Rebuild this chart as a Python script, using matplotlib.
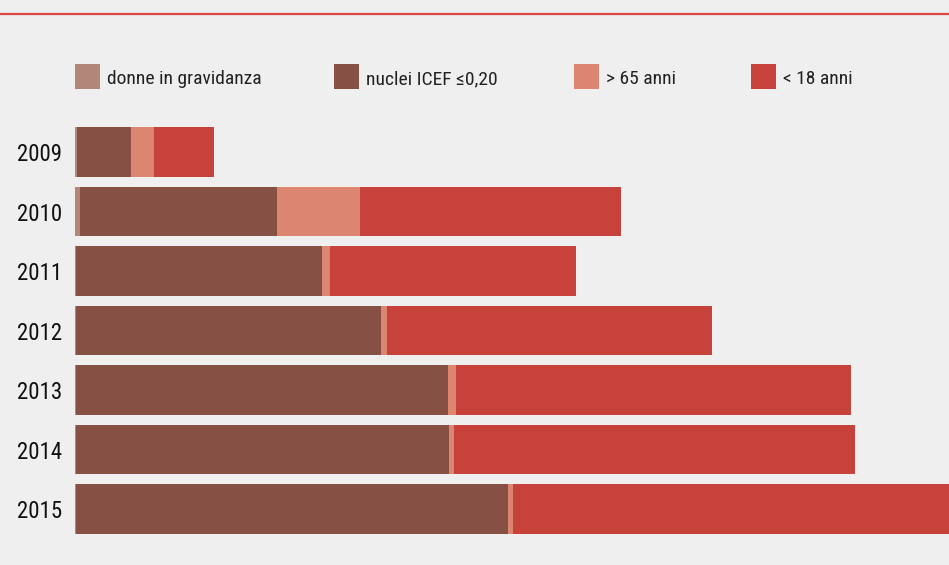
import matplotlib
matplotlib.use('Agg')
import matplotlib.pyplot as plt
from matplotlib.patches import Rectangle

# values (pixel-length units, no axis in the source)
years = ['2009', '2010', '2011', '2012', '2013', '2014', '2015']
series = ['donne in gravidanza', 'nuclei ICEF \u22640,20', '> 65 anni', '< 18 anni']
donne = [2, 5, 0.5, 0.5, 0.5, 0.5, 0.5]
nuclei = [54, 197, 246.5, 305.5, 372.5, 373.5, 432.5]
over65 = [23, 83, 8, 6, 8, 5, 5]
under18 = [60, 261, 246, 325, 395, 401, 436]
colors = ['#b08778', '#875044', '#dc8672', '#c6423b']

bg = '#efefef'
plt.rcParams['font.family'] = ['Roboto Condensed', 'DejaVu Sans']

fig = plt.figure(figsize=(9.49, 5.65), dpi=100, facecolor=bg)
ax = fig.add_axes([75 / 949, 1 - 538.75 / 565, 874 / 949, 416.5 / 565])
ax.set_facecolor(bg)

left = [0] * len(years)
for vals, col in zip([donne, nuclei, over65, under18], colors):
    ax.barh(range(len(years)), vals, left=left, height=0.84, color=col, linewidth=0)
    left = [a + b for a, b in zip(left, vals)]

ax.set_xlim(0, 874)
ax.set_ylim(6.5, -0.5)
ax.set_yticks(range(len(years)))
ax.set_yticklabels(years, fontsize=16.5, color='#111111')
ax.tick_params(axis='y', length=0, pad=9)
ax.set_xticks([])
for s in ax.spines.values():
    s.set_visible(False)

# legend, laid out like the original
leg_x = [75, 334, 574, 751]
for x, lab, col in zip(leg_x, series, colors):
    fig.patches.append(Rectangle((x / 949, 1 - 89 / 565), 25 / 949, 25 / 565,
                                 transform=fig.transFigure, color=col, linewidth=0))
    fig.text((x + 32) / 949, 1 - 84 / 565, lab, fontsize=14, color='#222222',
             va='baseline', ha='left')

# red rule at the top
fig.add_artist(plt.Line2D([0, 1], [1 - 14 / 565, 1 - 14 / 565], color='#d9483e',
                          linewidth=1.6, transform=fig.transFigure))

fig.savefig('out.png', dpi=100, facecolor=bg)
